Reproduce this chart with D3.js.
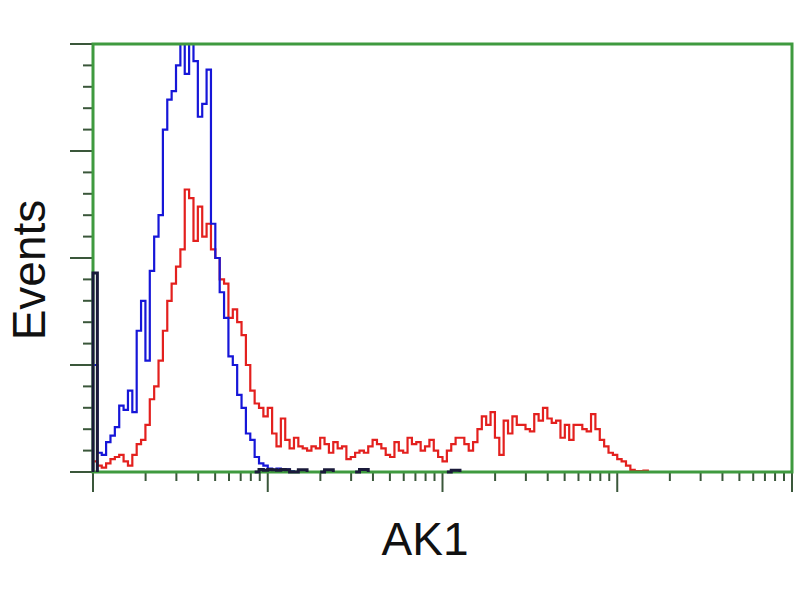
<!DOCTYPE html>
<html>
<head>
<meta charset="utf-8">
<script src="https://cdn.jsdelivr.net/npm/d3@7"></script>
<style>
  html, body { margin: 0; padding: 0; background: #fff; }
  svg { display: block; }
</style>
</head>
<body>
<svg id="chart" width="800" height="600"></svg>
<script>
// ---- data ----
const xLabel = "AK1";
const yLabel = "Events";
const xDomain = [1, 10000];          // log channel axis (4 decades)
const yDomain = [0, 100];            // events
const yMajorTicks = [0, 25, 50, 75, 100];
const yMinorStep = 5;
const binLogWidth = 0.025;           // histogram bin width in log10 units

// blue histogram (sample)
const blueValues = [25, 4.5, 4, 7, 8.5, 10.5, 15.5, 14.5, 19, 14, 33, 40, 26, 47, 55, 60,
  80, 87, 89, 95, 102, 93, 102, 96, 83, 86, 94, 58, 50, 42, 36, 27, 25, 18, 15, 9, 7.5,
  3.5, 2, 1.5, 0.8, 0.5, 0.8, 0.3, 0.6, 0.2, 0];

// red histogram (AK1 transfected)
const redValues = [2.5, 1.5, 1, 2, 3, 3.5, 4, 2.5, 1.5, 4, 6.5, 7.5, 11, 17, 20, 26,
  33, 40, 44, 48, 52, 66, 64, 54, 62, 55, 58, 52, 50, 45, 44, 36, 38, 35, 32, 25,
  19, 16, 15, 13, 15, 9, 6, 12.5, 7.5, 5.5, 8, 6, 5.5, 5, 6, 5.5, 8, 6.5, 4.5, 7,
  5.5, 6, 3, 3.5, 4.5, 5, 4.5, 6, 7.5, 6.5, 5.5, 4, 3.5, 7, 5, 4.5, 8, 6.5, 7, 5,
  6, 7.5, 5, 3.5, 2.5, 5, 6.5, 8, 8, 6.5, 5, 7, 10, 13, 11, 14, 8, 4, 12, 9, 13, 11,
  11, 10, 9.5, 13.5, 12, 15, 12.5, 11.5, 12, 8, 11, 7.5, 11, 11, 10, 9.5, 13.5, 10,
  7.5, 6, 4.5, 4, 3, 2.5, 1.5, 0.5, 0.2, 0.2, 0.3, 0];

// black histogram (control), almost entirely on the baseline
const blackValues = [46.5, 0, 0, 0, 0, 0, 0, 0, 0, 0, 0, 0, 0, 0, 0, 0, 0, 0, 0, 0,
  0, 0, 0, 0, 0, 0, 0, 0, 0, 0, 0, 0, 0, 0, 0, 0, 0, 0, 0.6, 0.4, 0.6, 0.5, 0.4, 0.6,
  0.5, 0, 0, 0.5, 0.5, 0, 0, 0, 0, 0.5, 0.5, 0, 0, 0, 0, 0, 0, 0.6, 0.6, 0, 0, 0, 0,
  0, 0, 0, 0, 0, 0, 0, 0, 0, 0, 0, 0, 0, 0, 0, 0.4, 0.4, 0];

// ---- layout ----
const svg = d3.select("#chart");
const pLeft = 93, pRight = 792, pTop = 44, pBottom = 472;
const frameColor = "#3f9a3f";
const tickColor = "#3a573a";

const x = d3.scaleLog().domain(xDomain).range([pLeft, pRight]);
const y = d3.scaleLinear().domain(yDomain).range([pBottom, pTop]);

svg.append("defs").append("clipPath").attr("id", "plot")
  .append("rect").attr("x", pLeft).attr("y", pTop)
  .attr("width", pRight - pLeft).attr("height", pBottom - pTop);

// histogram series as steps, starting from the baseline
function stepPoints(values) {
  const pts = [[1, 0]];
  values.forEach((v, i) => {
    pts.push([Math.pow(10, i * binLogWidth), v]);
  });
  pts.push([Math.pow(10, values.length * binLogWidth), values[values.length - 1]]);
  return pts;
}
const line = d3.line()
  .x(d => x(d[0])).y(d => y(d[1]))
  .curve(d3.curveStepAfter);

const g = svg.append("g").attr("clip-path", "url(#plot)");

// y ticks
const yMinor = d3.range(yDomain[0], yDomain[1] + 0.001, yMinorStep)
  .filter(v => !yMajorTicks.includes(v));
svg.append("g").selectAll("line").data(yMinor).join("line")
  .attr("x1", pLeft - 10).attr("x2", pLeft)
  .attr("y1", d => y(d)).attr("y2", d => y(d))
  .attr("stroke", tickColor).attr("stroke-width", 2);
svg.append("g").selectAll("line").data(yMajorTicks).join("line")
  .attr("x1", pLeft - 23).attr("x2", pLeft)
  .attr("y1", d => y(d)).attr("y2", d => y(d))
  .attr("stroke", tickColor).attr("stroke-width", 2);

// x ticks (log)
const xTicks = x.ticks();
const isMajor = d => Math.abs(Math.log10(d) - Math.round(Math.log10(d))) < 1e-9;
svg.append("g").selectAll("line").data(xTicks).join("line")
  .attr("x1", d => x(d)).attr("x2", d => x(d))
  .attr("y1", pBottom).attr("y2", d => isMajor(d) ? pBottom + 20 : pBottom + 9)
  .attr("stroke", tickColor).attr("stroke-width", 2);

// series
g.append("path").datum(stepPoints(redValues))
  .attr("d", line).attr("fill", "none")
  .attr("stroke", "#e3201e").attr("stroke-width", 2.2);
g.append("path").datum(stepPoints(blueValues))
  .attr("d", line).attr("fill", "none")
  .attr("stroke", "#1616d8").attr("stroke-width", 2.2);

// frame
svg.append("rect")
  .attr("x", pLeft).attr("y", pTop)
  .attr("width", pRight - pLeft).attr("height", pBottom - pTop)
  .attr("fill", "none").attr("stroke", frameColor).attr("stroke-width", 3);

// black control: drawn only where it leaves the baseline (and its edges)
const blackPts = stepPoints(blackValues);
const blackLine = d3.line()
  .defined((d, i) => d[1] > 0 ||
    (i > 0 && blackPts[i - 1][1] > 0) ||
    (i < blackPts.length - 1 && blackPts[i + 1][1] > 0))
  .x(d => x(d[0])).y(d => y(d[1]))
  .curve(d3.curveStepAfter);
svg.append("path").datum(blackPts)
  .attr("d", blackLine).attr("fill", "none")
  .attr("stroke", "#1a1a3a").attr("stroke-width", 3);

// labels
svg.append("text")
  .attr("x", 425).attr("y", 555)
  .attr("text-anchor", "middle")
  .attr("font-family", "Liberation Sans, Arial, sans-serif")
  .attr("font-size", 46).attr("fill", "#111")
  .text(xLabel);
svg.append("text")
  .attr("transform", "translate(45,270) rotate(-90)")
  .attr("text-anchor", "middle")
  .attr("font-family", "Liberation Sans, Arial, sans-serif")
  .attr("font-size", 46).attr("fill", "#111")
  .text(yLabel);
</script>
</body>
</html>
